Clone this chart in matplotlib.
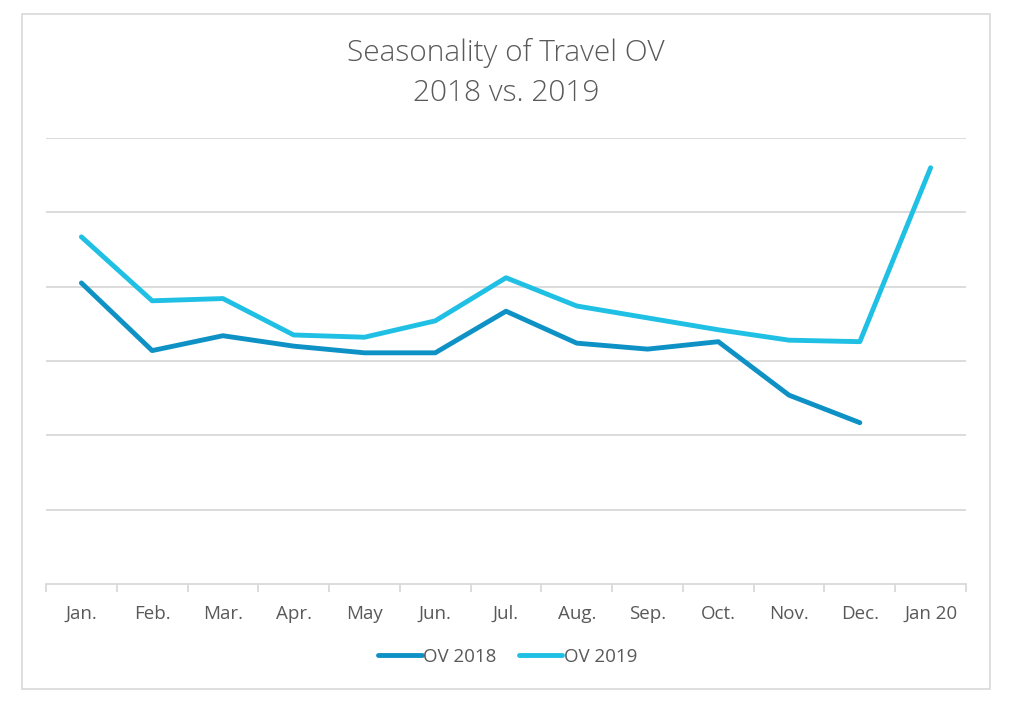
import matplotlib.pyplot as plt
from matplotlib.patches import Rectangle
from matplotlib.lines import Line2D

plt.rcParams['font.family'] = ['Open Sans', 'DejaVu Sans']

months = ["Jan.", "Feb.", "Mar.", "Apr.", "May", "Jun.", "Jul.",
          "Aug.", "Sep.", "Oct.", "Nov.", "Dec.", "Jan 20"]
ov_2018 = [4.05, 3.14, 3.34, 3.20, 3.11, 3.11, 3.67, 3.24, 3.16, 3.26, 2.54, 2.17]
ov_2019 = [4.67, 3.81, 3.84, 3.35, 3.32, 3.54, 4.12, 3.74, 3.58, 3.42, 3.28, 3.26, 5.60]

c2018 = '#0E92C6'
c2019 = '#1FC0E4'
grid_c = '#d9d9d9'
text_c = '#595959'

W, H = 1011, 704
fig = plt.figure(figsize=(W / 100, H / 100), dpi=100)
fig.patches.append(Rectangle((22 / W, 1 - 689 / H), 968 / W, 675 / H,
                             transform=fig.transFigure, fill=False,
                             edgecolor=grid_c, linewidth=1.2))

ax = fig.add_axes([46 / W, 1 - 584 / H, 920 / W, 446 / H])
ax.set_xlim(-0.5, len(months) - 0.5)
ax.set_ylim(0, 6)

for y in range(1, 7):
    ax.axhline(y, color=grid_c, linewidth=1.3, zorder=0)

ax.plot(range(len(ov_2018)), ov_2018, color=c2018, linewidth=3.5,
        solid_capstyle='round', solid_joinstyle='round', label='OV 2018', zorder=3)
ax.plot(range(len(ov_2019)), ov_2019, color=c2019, linewidth=3.5,
        solid_capstyle='round', solid_joinstyle='round', label='OV 2019', zorder=2)

for s in ['top', 'right', 'left']:
    ax.spines[s].set_visible(False)
ax.spines['bottom'].set_color(grid_c)
ax.spines['bottom'].set_linewidth(1.3)

ax.set_yticks([])
ax.set_xticks(range(len(months)))
ax.set_xticklabels(months, fontsize=13.5, color=text_c)
ax.tick_params(axis='x', which='major', length=0, pad=15)
ax.set_xticks([i - 0.5 for i in range(len(months) + 1)], minor=True)
ax.tick_params(axis='x', which='minor', length=6, width=1.3, color=grid_c)

fig.text(506 / W, 1 - 53 / H, "Seasonality of Travel OV", ha='center', va='center',
         fontsize=21.5, color=text_c, fontweight='light')
fig.text(506 / W, 1 - 93 / H, "2018 vs. 2019", ha='center', va='center',
         fontsize=21.5, color=text_c, fontweight='light')

handles = [Line2D([], [], color=c2018, linewidth=3.5, solid_capstyle='round'),
           Line2D([], [], color=c2019, linewidth=3.5, solid_capstyle='round')]
fig.legend(handles, ['OV 2018', 'OV 2019'], loc='center',
           bbox_to_anchor=(508 / W, 1 - 657 / H), ncol=2, frameon=False,
           fontsize=13.5, labelcolor=text_c, handlelength=2.3, handletextpad=0.1,
           columnspacing=1.2)

fig.savefig('out.png', dpi=100)
